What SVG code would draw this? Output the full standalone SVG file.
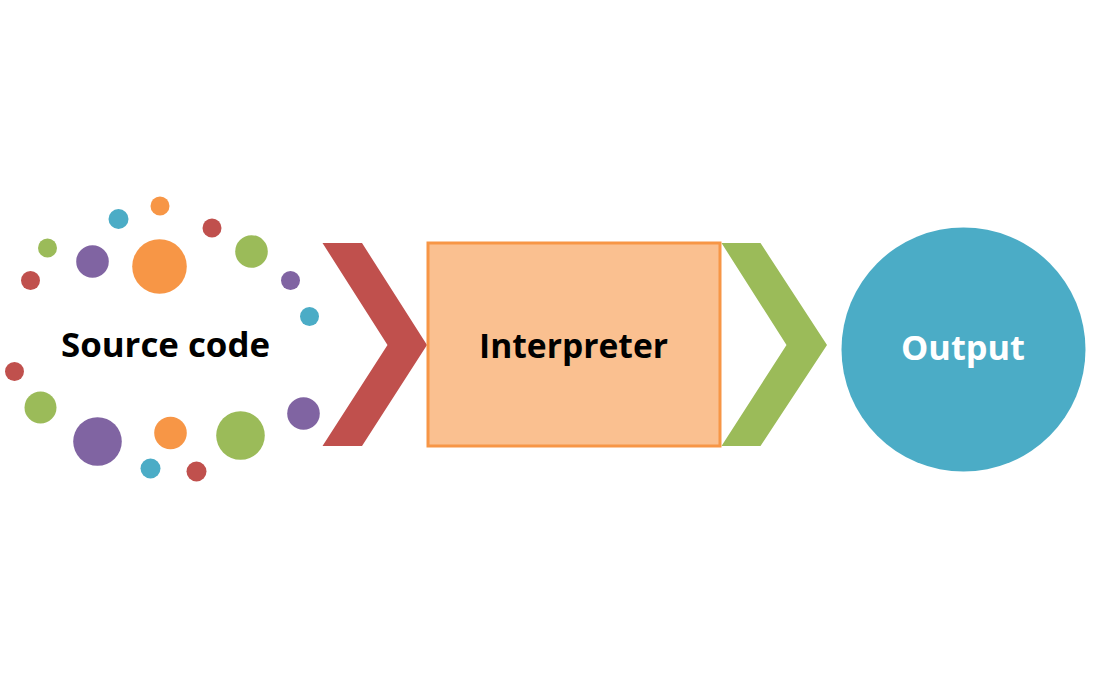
<svg xmlns="http://www.w3.org/2000/svg" width="1102" height="678" viewBox="0 0 1102 678">
<style>
.r{fill:#C0504D}.g{fill:#9BBB59}.p{fill:#8064A2}.t{fill:#4BACC6}.o{fill:#F79646}
.lbl{font-family:"Open Sans","Liberation Sans",sans-serif;font-weight:bold;font-size:34px}
</style>
<rect width="1102" height="678" fill="#ffffff"/>
<g id="source">
<circle class="o" cx="160" cy="206" r="9.5"/>
<circle class="t" cx="118.5" cy="219" r="10"/>
<circle class="r" cx="212" cy="228" r="9.5"/>
<circle class="g" cx="47.5" cy="248" r="9.5"/>
<circle class="p" cx="92.5" cy="261.5" r="16.3"/>
<circle class="o" cx="159.5" cy="266.5" r="27.3"/>
<circle class="g" cx="251.5" cy="251.5" r="16.3"/>
<circle class="r" cx="30.5" cy="280.5" r="9.5"/>
<circle class="p" cx="290.5" cy="280.5" r="9.5"/>
<circle class="t" cx="309.5" cy="316.5" r="9.5"/>
<circle class="r" cx="14.5" cy="371.5" r="9.5"/>
<circle class="g" cx="40.5" cy="407.5" r="16"/>
<circle class="p" cx="97.5" cy="441.5" r="24.3"/>
<circle class="o" cx="170.5" cy="433" r="16.3"/>
<circle class="g" cx="240.5" cy="435.5" r="24.3"/>
<circle class="p" cx="303.5" cy="413.5" r="16.3"/>
<circle class="t" cx="150.5" cy="468.5" r="10"/>
<circle class="r" cx="196.5" cy="471.5" r="10"/>
<text class="lbl" x="61" y="357" textLength="209" lengthAdjust="spacingAndGlyphs" fill="#000">Source code</text>
</g>
<g id="connectors">
<polygon class="r" points="322.5,243 362,243 427,345 362,446 322.5,446 387.5,345"/>
<polygon class="g" points="721.5,243 760.5,243 827,345 760.5,446 721.5,446 786.5,345"/>
</g>
<g id="interpreter">
<rect x="428" y="243" width="292" height="203" fill="#FAC090" stroke="#F79646" stroke-width="3"/>
<text class="lbl" x="479" y="358" textLength="189" lengthAdjust="spacingAndGlyphs" fill="#000">Interpreter</text>
</g>
<g id="output">
<circle class="t" cx="963.5" cy="349.5" r="122"/>
<text class="lbl" x="901" y="360" textLength="124" lengthAdjust="spacingAndGlyphs" fill="#fff">Output</text>
</g>
</svg>
